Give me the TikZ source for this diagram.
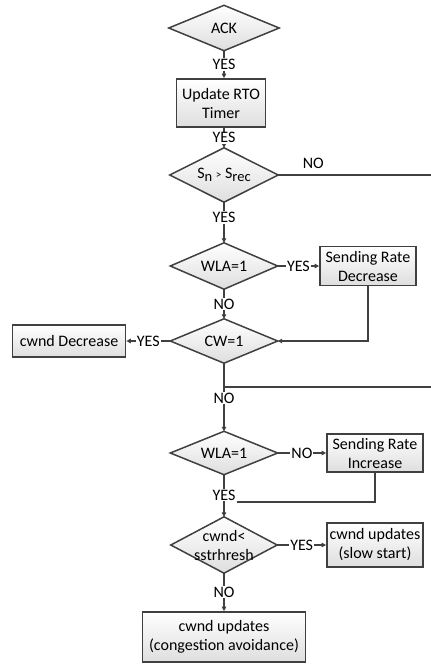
\documentclass[tikz,border=0pt]{standalone}
\usepackage{fontspec}
\setmainfont{Carlito}
\usetikzlibrary{arrows.meta,backgrounds}
\definecolor{lc}{HTML}{404040}
\definecolor{boxbot}{HTML}{DEDEDE}
\newcommand{\subx}[1]{\raisebox{-0.4ex}{\fontsize{14.5}{14.5}\selectfont #1}}
\begin{document}
\begin{tikzpicture}[x=1pt,y=-1pt,
  font=\fontsize{16}{19}\selectfont,
  line/.style={draw=lc, line width=1.5pt},
  arr/.style={line, -{Triangle[length=4.5pt,width=4.5pt]}},
  box/.style 2 args={draw=lc, line width=1.7pt, top color=white, bottom color=boxbot,
    align=center, inner sep=1pt, minimum width=#1, minimum height=#2},
  dia/.style 2 args={inner sep=0pt, align=center, minimum width=#1, minimum height=#2},
  diashape/.style={draw=lc, line width=1.5pt, top color=white, bottom color=boxbot, line join=miter},
  lab/.style={fill=white, inner sep=1pt}]
\useasboundingbox (0,0) rectangle (431,664);

% nodes
\node[dia={110}{45}] (ack) at (224,28) {ACK};
\node[box={89}{48}] (rto) at (221,103) {Update RTO\\Timer};
\node[dia={108}{54}] (sn) at (224,175) {S\subx{n} {\fontsize{11}{11}\selectfont >} S\subx{rec}};
\node[dia={107}{46}] (w1) at (224,266) {WLA=1};
\node[box={96}{39}] (srd) at (368,266) {Sending Rate\\Decrease};
\node[dia={107}{44}] (cw) at (224,341) {CW=1};
\node[box={113}{32}] (cd) at (69,341) {cwnd Decrease};
\node[dia={107}{43}] (w2) at (224,453) {WLA=1};
\node[box={96}{38}] (sri) at (375,453) {Sending Rate\\Increase};
\node[dia={106}{56}] (cl) at (224,545) {cwnd<\\sstrhresh};
\node[box={96}{44}] (ss) at (375,545) {cwnd updates\\(slow start)};
\node[box={163}{50}] (ca) at (224,637) {cwnd updates\\(congestion avoidance)};

\coordinate (e1) at (431,175);
\coordinate (j1) at (224,387);
\coordinate (e2) at (431,387);

% diamond outlines behind text
\begin{scope}[on background layer]
\foreach \n in {ack,sn,w1,cw,w2,cl}
  \path[diashape] (\n.north) -- (\n.east) -- (\n.south) -- (\n.west) -- cycle;
\end{scope}

% connectors
\draw[arr] (ack.south) -- node[lab] {YES} (ack.south |- rto.north);
\draw[arr] (sn.north |- rto.south) -- node[lab] {YES} (sn.north);
\draw[line] (sn.east) -- node[above, pos=0.23, yshift=2pt] {NO} (e1);
\draw[arr] (sn.south) -- node[lab, pos=0.38] {YES} (w1.north);
\draw[arr] (w1.east) -- node[lab] {YES} (srd.west);
\draw[arr] (w1.south) -- node[lab] {NO} (cw.north);
\draw[arr] (srd.south) |- (cw.east);
\draw[arr] (cw.west) -- node[lab] {YES} (cd.east);
\draw[line] (cw.south) -- (j1) -- (e2);
\draw[arr] (j1) -- node[lab, pos=0.25] {NO} (w2.north);
\draw[arr] (w2.east) -- node[lab] {NO} (sri.west);
\draw[arr] (w2.south) -- node[lab, pos=0.48] (y11) {YES} (cl.north);
\draw[line] (sri.south) |- (y11.south east);
\draw[arr] (cl.east) -- node[lab] {YES} (ss.west);
\draw[arr] (cl.south) -- node[lab] {NO} (ca.north);
\end{tikzpicture}
\end{document}
